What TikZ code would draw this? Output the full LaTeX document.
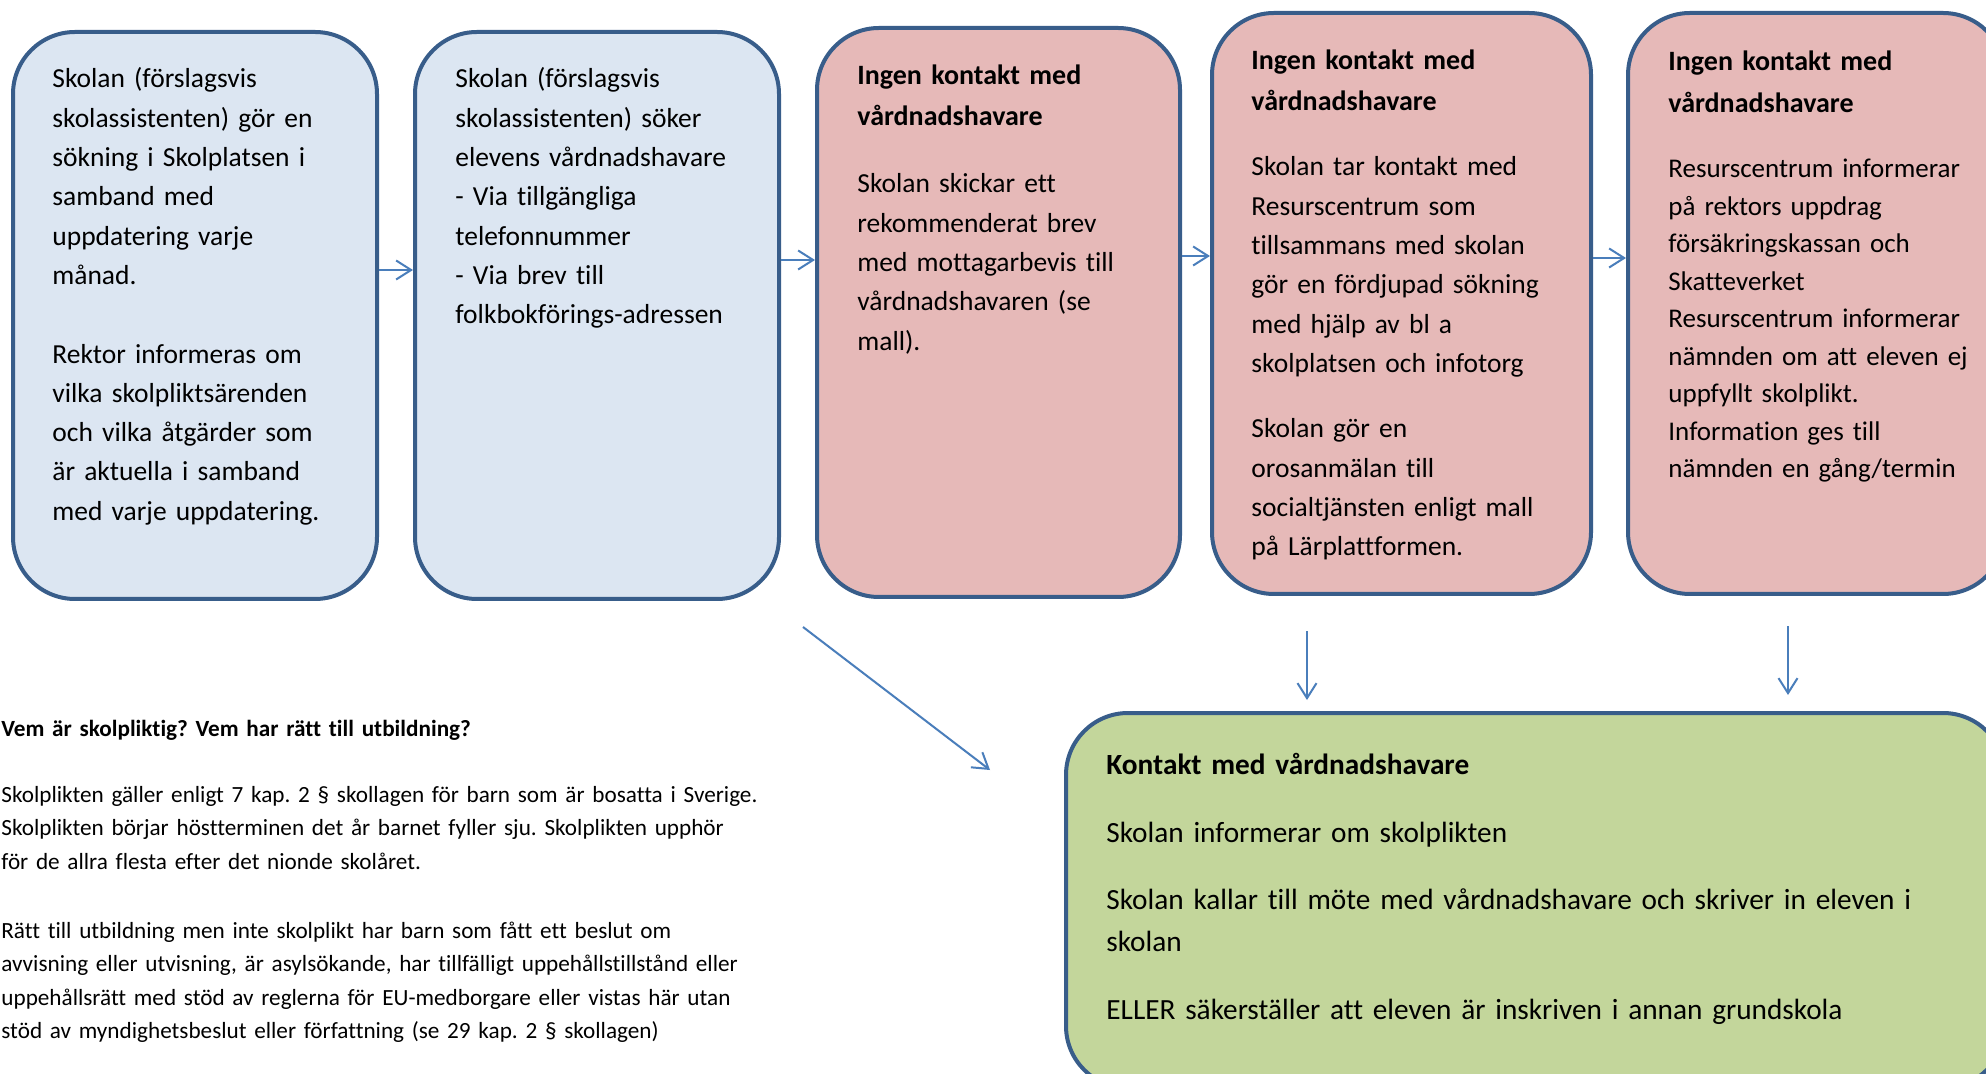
\documentclass[tikz,border=0pt]{standalone}
\usepackage{fontspec}
\setmainfont{Carlito}[Ligatures=NoCommon]
\usetikzlibrary{arrows.meta,fit}
\definecolor{bluefill}{HTML}{DCE6F2}
\definecolor{pinkfill}{HTML}{E6B9B8}
\definecolor{greenfill}{HTML}{C3D69B}
\definecolor{edgeblue}{HTML}{385D8A}
\definecolor{arrowblue}{HTML}{4A7EBB}
\frenchspacing
\begin{document}
\begin{tikzpicture}[x=0.5pt,y=-0.5pt,
  box/.style={draw=edgeblue,line width=2pt,rounded corners=31pt,inner sep=0pt},
  arr/.style={draw=arrowblue,line width=1pt,-{Straight Barb[length=7.5pt,width=9.5pt]}},
  txt/.style={inner sep=0pt,anchor=base west,align=left,text width=420pt},
  boxfont/.style={font=\fontsize{13.75}{19.65}\selectfont},
  headfont/.style={font=\fontsize{14}{20.25}\selectfont\bfseries},
  smallfont/.style={font=\fontsize{11.6}{16.75}\selectfont},
  smallbold/.style={font=\fontsize{11.6}{16.75}\selectfont\bfseries},
  greenfont/.style={font=\fontsize{14.65}{21}\selectfont},
  greenbold/.style={font=\fontsize{14.65}{21}\selectfont\bfseries}
]
\useasboundingbox (0,0) rectangle (1986,1074);
\fill[white] (0,0) rectangle (1986,1074);
\clip (0,0) rectangle (1986,1074);

% boxes
\node[box,fill=bluefill,fit={(13,32) (377,599)}] (b1) {};
\node[box,fill=bluefill,fit={(415,32) (779,599)}] (b2) {};
\node[box,fill=pinkfill,fit={(817,28) (1180,597)}] (b3) {};
\node[box,fill=pinkfill,fit={(1212,13) (1591,594)}] (b4) {};
\node[box,fill=pinkfill,fit={(1628,13) (2005,594)}] (b5) {};
\node[box,fill=greenfill,fit={(1066,713) (2005,1088)}] (g) {};

% box texts
\node[txt,boxfont] (t1) at (52,88) {Skolan (förslagsvis\\ skolassistenten) gör en\\ sökning i Skolplatsen i\\ samband med\\ uppdatering varje\\ månad.\\[19.65pt] Rektor informeras om\\ vilka skolpliktsärenden\\ och vilka åtgärder som\\ är aktuella i samband\\ med varje uppdatering.};
\node[txt,boxfont] (t2) at (455,88) {Skolan (förslagsvis\\ skolassistenten) söker\\ elevens vårdnadshavare\\ - Via tillgängliga\\ telefonnummer\\ - Via brev till\\ folkbokförings-adressen};

\node[txt,headfont] (h3) at (857,85) {Ingen kontakt med\\ vårdnadshavare};
\node[txt,boxfont] (t3) at (857,193) {Skolan skickar ett\\ rekommenderat brev\\ med mottagarbevis till\\ vårdnadshavaren (se\\ mall).};

\node[txt,headfont] (h4) at (1251,70) {Ingen kontakt med\\ vårdnadshavare};
\node[txt,boxfont] (t4a) at (1251,176) {Skolan tar kontakt med\\ Resurscentrum som\\ tillsammans med skolan\\ gör en fördjupad sökning\\ med hjälp av bl a\\ skolplatsen och infotorg};
\node[txt,boxfont] (t4b) at (1251,438) {Skolan gör en\\ orosanmälan till\\ socialtjänsten enligt mall\\ på Lärplattformen.};

\node[txt,font=\fontsize{14}{21}\selectfont\bfseries] (h5) at (1668,71) {Ingen kontakt med\\ vårdnadshavare};
\node[txt,font=\fontsize{13.5}{18.75}\selectfont] (t5) at (1668,178) {Resurscentrum informerar\\ på rektors uppdrag\\ försäkringskassan och\\ Skatteverket\\ Resurscentrum informerar\\ nämnden om att eleven ej\\ uppfyllt skolplikt.\\ Information ges till\\ nämnden en gång/termin};

% green box texts
\node[txt,greenbold] (g1) at (1106,774) {Kontakt med vårdnadshavare};
\node[txt,greenfont] (g2) at (1106,842) {Skolan informerar om skolplikten};
\node[txt,greenfont] (g3) at (1106,909) {Skolan kallar till möte med vårdnadshavare och skriver in eleven i\\ skolan};
\node[txt,greenfont] (g4) at (1106,1019) {ELLER säkerställer att eleven är inskriven i annan grundskola};

% bottom-left text
\node[txt,smallbold] (q) at (1,736) {Vem är skolpliktig? Vem har rätt till utbildning?};
\node[txt,smallfont] (p1) at (1,802) {Skolplikten gäller enligt 7 kap. 2 § skollagen för barn som är bosatta i Sverige.\\ Skolplikten börjar höstterminen det år barnet fyller sju. Skolplikten upphör\\ för de allra flesta efter det nionde skolåret.};
\node[txt,smallfont] (p2) at (1,938) {Rätt till utbildning men inte skolplikt har barn som fått ett beslut om\\ avvisning eller utvisning, är asylsökande, har tillfälligt uppehållstillstånd eller\\ uppehållsrätt med stöd av reglerna för EU-medborgare eller vistas här utan\\ stöd av myndighetsbeslut eller författning (se 29 kap. 2 § skollagen)};

% connectors
\draw[arr] ([yshift=22.75pt]b1.east) -- ([yshift=22.75pt]b1.east -| b2.west);
\draw[arr] ([yshift=27.75pt]b2.east) -- ([yshift=27.75pt]b2.east -| b3.west);
\draw[arr] ([yshift=28.25pt]b3.east) -- ([yshift=28.25pt]b3.east -| b4.west);
\draw[arr] ([yshift=22.75pt]b4.east) -- ([yshift=22.75pt]b4.east -| b5.west);

\coordinate (d1) at (803,627);
\coordinate (d2) at (990,770);
\draw[arr] (d1) -- (d2);
\coordinate (v1a) at (1307,631);
\coordinate (v1b) at (1307,700);
\draw[arr] (v1a) -- (v1b);
\coordinate (v2a) at (1788,626);
\coordinate (v2b) at (1788,695);
\draw[arr] (v2a) -- (v2b);
\end{tikzpicture}
\end{document}
